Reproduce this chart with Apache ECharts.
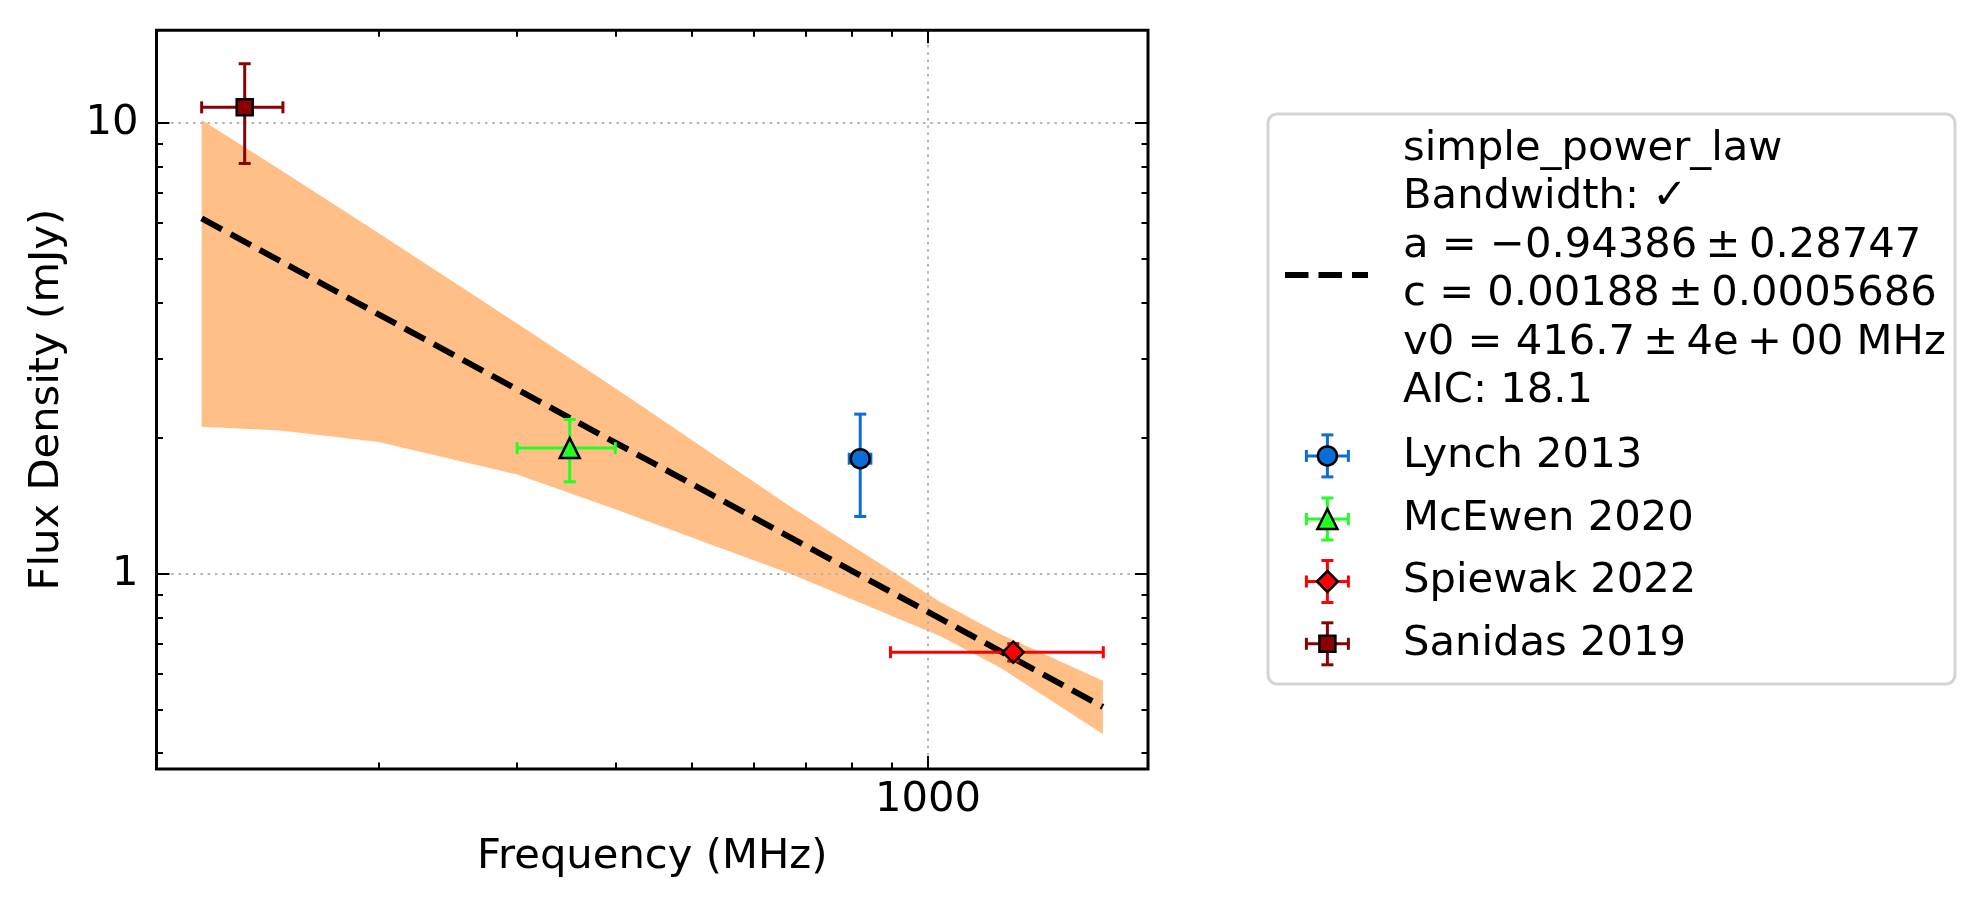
<!DOCTYPE html>
<html>
<head>
<meta charset="utf-8">
<script src="https://cdn.jsdelivr.net/npm/echarts@6/dist/echarts.min.js"></script>
<style>
html, body { margin: 0; padding: 0; background: #fff; }
#main { width: 1986px; height: 914px; }
</style>
</head>
<body>
<div id="main"></div>
<script>
// measured points
var sources  = ['Lynch 2013', 'McEwen 2020', 'Spiewak 2022', 'Sanidas 2019'];
var freq     = [820, 350, 1284, 135];
var freqErr  = [26, 50, 388, 16];
var flux     = [1.80, 1.90, 0.67, 10.83];
var fluxErr  = [0.46, 0.30, 0.03, 2.70];

// fitted model + uncertainty band
var fitFreq    = [119, 1670];
var fitFlux    = [6.14, 0.507];
var bandFreq   = [119, 150, 200, 300, 400, 668, 1036, 1235, 1670];
var bandUpper  = [10.15, 7.86, 5.69, 3.59, 2.58, 1.41, 0.867, 0.735, 0.579];
var bandLower  = [2.12, 2.08, 1.96, 1.66, 1.39, 1.00, 0.728, 0.620, 0.441];

// ticks
var xMajorTicks = [1000];
var xMinorTicks = [200, 300, 400, 500, 600, 700, 800, 900];
var yMajorTicks = [1, 10];
var yMinorTicks = [0.4, 0.5, 0.6, 0.7, 0.8, 0.9, 2, 3, 4, 5, 6, 7, 8, 9];

var fitLabel = ['simple_power_law', 'Bandwidth: \u2713', 'a = \u22120.94386\u2009\u00b1\u20090.28747',
    'c = 0.00188\u2009\u00b1\u20090.0005686', 'v0 = 416.7\u2009\u00b1\u20094e\u2009+\u200900 MHz', 'AIC: 18.1'];

var colors  = ['#0d6dd6', '#22ff22', '#ff0000', '#8b0000'];
var symbols = ['circle', 'triangle', 'diamond', 'rect'];
var sizes   = [19, 20, 21, 16];

var FONT = "'DejaVu Sans'";
var FS = 41.7;

var xMin = 104.25, xMax = 1906, yMin = 0.369, yMax = 16.05;

var myChart = echarts.init(document.getElementById('main'));

function roundLabel(v) {
    return v >= 1 ? String(Math.round(v)) : String(v);
}

function makeAxis(kind, position, ticks, len, major) {
    var ax = {
        type: 'log',
        position: position,
        min: kind === 'x' ? xMin : yMin,
        max: kind === 'x' ? xMax : yMax,
        z: 2,
        axisLine: { show: false },
        axisTick: { show: true, inside: true, length: len, customValues: ticks,
                    lineStyle: { color: '#000', width: 2 } },
        axisLabel: { show: false },
        splitLine: { show: false }
    };
    if (major && (position === 'bottom' || position === 'left')) {
        ax.axisLabel = {
            show: true, customValues: ticks, color: '#000',
            fontFamily: FONT, fontSize: FS, margin: kind === 'x' ? 10 : 18,
            formatter: roundLabel
        };
        ax.splitLine = { show: true, lineStyle: { color: '#b4b4b4', width: 2, type: [2.5, 4.8] } };
        ax.nameLocation = 'middle';
        ax.nameTextStyle = { fontFamily: FONT, fontSize: FS, color: '#000' };
        if (kind === 'x') {
            ax.name = 'Frequency (MHz)';
            ax.nameGap = 67;
        } else {
            ax.name = 'Flux Density (mJy)';
            ax.nameGap = 88;
            ax.nameRotate = 90;
        }
    }
    return ax;
}

var bandData = bandFreq.map(function (f, i) { return [f, bandLower[i], bandUpper[i]]; });

var series = [
    {
        type: 'custom',
        name: 'band',
        z: 1,
        silent: true,
        data: bandData,
        encode: { x: 0, y: [1, 2] },
        renderItem: function (params, api) {
            if (params.dataIndex !== 0) return null;
            var pts = [];
            for (var i = 0; i < bandFreq.length; i++) pts.push(api.coord([bandFreq[i], bandUpper[i]]));
            for (var j = bandFreq.length - 1; j >= 0; j--) pts.push(api.coord([bandFreq[j], bandLower[j]]));
            return { type: 'polygon', shape: { points: pts }, style: { fill: '#ffbf86', stroke: null } };
        }
    },
    {
        type: 'line',
        name: 'simple_power_law',
        z: 3,
        symbol: 'none',
        data: fitFreq.map(function (f, i) { return [f, fitFlux[i]]; }),
        lineStyle: { color: '#000', width: 6, type: [23, 10], cap: 'butt' }
    }
];

sources.forEach(function (name, k) {
    var c = colors[k];
    series.push({
        type: 'custom',
        name: name + ' err',
        z: 4,
        silent: true,
        data: [[freq[k], flux[k], freqErr[k], fluxErr[k]]],
        encode: { x: 0, y: 1 },
        renderItem: function (params, api) {
            var x = api.value(0), y = api.value(1), dx = api.value(2), dy = api.value(3);
            var l = api.coord([x - dx, y]), r = api.coord([x + dx, y]);
            var t = api.coord([x, y + dy]), b = api.coord([x, y - dy]);
            var st = { stroke: c, lineWidth: 3 };
            var cap = 6;
            function ln(x1, y1, x2, y2) {
                return { type: 'line', shape: { x1: x1, y1: y1, x2: x2, y2: y2 }, style: st };
            }
            return { type: 'group', children: [
                ln(l[0], l[1], r[0], r[1]),
                ln(t[0], t[1], b[0], b[1]),
                ln(l[0], l[1] - cap, l[0], l[1] + cap),
                ln(r[0], r[1] - cap, r[0], r[1] + cap),
                ln(t[0] - cap, t[1], t[0] + cap, t[1]),
                ln(b[0] - cap, b[1], b[0] + cap, b[1])
            ] };
        }
    });
    series.push({
        type: 'scatter',
        name: name,
        z: 5,
        symbol: symbols[k],
        symbolSize: sizes[k],
        data: [[freq[k], flux[k]]],
        itemStyle: { color: c, borderColor: '#000', borderWidth: 2.5, opacity: 1 }
    });
});

// legend box drawn as graphic
var LX = 1268, LY = 114, LW = 687, LH = 570;
var legendItems = [
    { type: 'rect', shape: { x: LX, y: LY, width: LW, height: LH, r: 9 },
      style: { fill: '#fff', stroke: '#d4d4d4', lineWidth: 3 } },
    { type: 'line', shape: { x1: 1285, y1: 275, x2: 1368, y2: 275 },
      style: { stroke: '#000', lineWidth: 6, lineDash: [23.5, 10] } },
    { type: 'text', x: 1403, y: 149 - 24.25,
      style: { text: fitLabel.join('\n'), font: FS + 'px ' + FONT, fill: '#000',
               lineHeight: 48.5, verticalAlign: 'top', align: 'left' } }
];
var entryY = [455.9, 519, 581.5, 643.8];
var MX = 1327.4;
sources.forEach(function (name, k) {
    var cy = entryY[k], c = colors[k], h = 21;
    var st = { stroke: c, lineWidth: 3 };
    legendItems.push(
        { type: 'line', shape: { x1: MX - h, y1: cy, x2: MX + h, y2: cy }, style: st },
        { type: 'line', shape: { x1: MX, y1: cy - h, x2: MX, y2: cy + h }, style: st },
        { type: 'line', shape: { x1: MX - h, y1: cy - 6, x2: MX - h, y2: cy + 6 }, style: st },
        { type: 'line', shape: { x1: MX + h, y1: cy - 6, x2: MX + h, y2: cy + 6 }, style: st },
        { type: 'line', shape: { x1: MX - 6, y1: cy - h, x2: MX + 6, y2: cy - h }, style: st },
        { type: 'line', shape: { x1: MX - 6, y1: cy + h, x2: MX + 6, y2: cy + h }, style: st }
    );
    var mst = { fill: c, stroke: '#000', lineWidth: 2.5 };
    var s = sizes[k] / 2;
    if (symbols[k] === 'circle') {
        legendItems.push({ type: 'circle', shape: { cx: MX, cy: cy, r: s }, style: mst });
    } else if (symbols[k] === 'triangle') {
        legendItems.push({ type: 'polygon', shape: { points: [[MX, cy - s], [MX + s, cy + s], [MX - s, cy + s]] }, style: mst });
    } else if (symbols[k] === 'diamond') {
        legendItems.push({ type: 'polygon', shape: { points: [[MX, cy - s], [MX + s, cy], [MX, cy + s], [MX - s, cy]] }, style: mst });
    } else {
        legendItems.push({ type: 'rect', shape: { x: MX - s, y: cy - s, width: 2 * s, height: 2 * s }, style: mst });
    }
    legendItems.push({ type: 'text', x: 1403, y: cy,
        style: { text: name, font: FS + 'px ' + FONT, fill: '#000', verticalAlign: 'middle', align: 'left' } });
});

var option = {
    animation: false,
    backgroundColor: '#fff',
    grid: { left: 156.5, top: 30.3, width: 991.5, height: 738.7, show: true,
            borderColor: '#000', borderWidth: 3, backgroundColor: 'transparent', containLabel: false },
    xAxis: [
        makeAxis('x', 'bottom', xMajorTicks, 13, true),
        makeAxis('x', 'bottom', xMinorTicks, 6.5, false),
        makeAxis('x', 'top', xMajorTicks, 13, true),
        makeAxis('x', 'top', xMinorTicks, 6.5, false)
    ],
    yAxis: [
        makeAxis('y', 'left', yMajorTicks, 13, true),
        makeAxis('y', 'left', yMinorTicks, 6.5, false),
        makeAxis('y', 'right', yMajorTicks, 13, true),
        makeAxis('y', 'right', yMinorTicks, 6.5, false)
    ],
    graphic: { elements: legendItems },
    series: series
};

myChart.setOption(option);
</script>
</body>
</html>
